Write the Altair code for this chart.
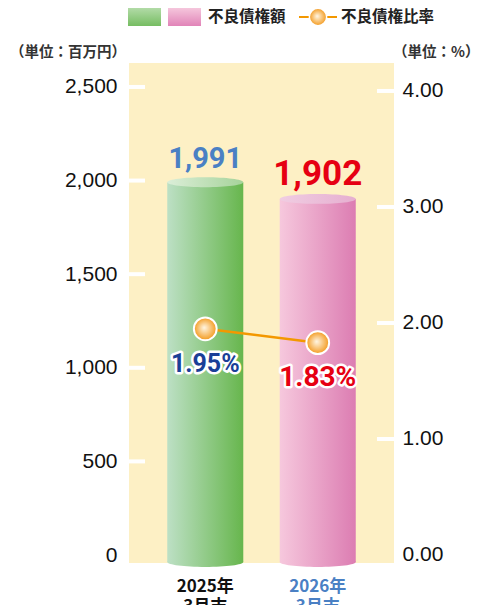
import altair as alt
import pandas as pd

# ---- data ----
years = ["2025年3月末", "2026年3月末"]
year_text = ["2025年\n3月末", "2026年\n3月末"]
amounts = [1991, 1902]
amount_labels = ["1,991", "1,902"]
ratios = [1.95, 1.83]
ratio_labels = ["1.95%", "1.83%"]
left_ticks = [0, 500, 1000, 1500, 2000, 2500]
right_ticks = [0.0, 1.0, 2.0, 3.0, 4.0]
legend_labels = ["不良債権額", "不良債権比率"]
unit_labels = ["（単位：百万円）", "（単位：%）"]

W, H = 265, 500
NUM_FONT = "Roboto, Liberation Sans, sans-serif"
AX_FONT = "Liberation Sans, Arial, sans-serif"
JP_FONT = "Noto Sans CJK JP, sans-serif"

df = pd.DataFrame({
    "year": years, "ytext": year_text, "amount": amounts,
    "amount_label": amount_labels, "ratio": ratios, "ratio_label": ratio_labels,
})
one = pd.DataFrame({"k": [0]})
lt = pd.DataFrame({"v": [v for v in left_ticks if v > 0]})
rt = pd.DataFrame({"v": [v for v in right_ticks if v > 0]})

x = alt.X("year:N", scale=alt.Scale(domain=years, paddingInner=0.324, paddingOuter=0.34), axis=None)
yL = alt.Scale(domain=[-42.7, 2628], nice=False, zero=False)
yR = alt.Scale(domain=[-0.069, 4.241], nice=False, zero=False)

left_axis = alt.Axis(values=left_ticks, format=",.0f", labelFontSize=21, labelFont=AX_FONT,
                     labelColor="#111111", labelPadding=12, ticks=False, domain=False,
                     grid=False, title=None, orient="left")
right_axis = alt.Axis(values=right_ticks, format=".2f", labelFontSize=21, labelFont=AX_FONT,
                      labelColor="#111111", labelPadding=8, ticks=False, domain=False,
                      grid=False, title=None, orient="right")


def YL(field):
    return alt.Y(field, scale=yL, axis=left_axis, title=None)


def YR(field):
    return alt.Y(field, scale=yR, axis=right_axis, title=None)


def lg(c0, c1, vertical=False):
    return alt.LinearGradient(
        gradient="linear",
        stops=[alt.GradientStop(color=c0, offset=0), alt.GradientStop(color=c1, offset=1)],
        x1=0, y1=0, x2=0 if vertical else 1, y2=1 if vertical else 0,
    )


def ellipse(ratio):
    k = 0.5523
    r = ratio
    return (f"M -1 0 C -1 {-k*r:.4f} {-k:.4f} {-r} 0 {-r} C {k:.4f} {-r} 1 {-k*r:.4f} 1 0 "
            f"C 1 {k*r:.4f} {k:.4f} {r} 0 {r} C {-k:.4f} {r} -1 {k*r:.4f} -1 0 Z")


ELL = ellipse(0.13)
BW = 76
bar_styles = {
    years[0]: dict(body=lg("#bde0c5", "#67b64d"), top=lg("#dbeed8", "#a6d39a"),
                   label_color="#4a80c4", label_size=29, xl_color="#111111"),
    years[1]: dict(body=lg("#f6c8dd", "#dc7db2"), top=lg("#f0cde2", "#e6afd0"),
                   label_color="#e60012", label_size=35, xl_color="#4a80c4"),
}

left_layers = []
for yr in years:
    st = bar_styles[yr]
    base = alt.Chart(df).transform_filter(alt.datum.year == yr)
    left_layers.append(
        base.mark_point(shape=ELL, filled=True, fill=st["body"], size=BW * BW, opacity=1, strokeWidth=0)
        .encode(x=x, y=alt.value(H - 1))
    )
    left_layers.append(
        base.mark_rect(fill=st["body"], opacity=1)
        .encode(x=x, y=YL("amount:Q"), y2=alt.value(H - 1))
    )
    left_layers.append(
        base.mark_point(shape=ELL, filled=True, fill=st["top"], size=BW * BW, opacity=1, strokeWidth=0)
        .encode(x=x, y=YL("amount:Q"))
    )
    left_layers.append(
        base.mark_text(dy=-14, baseline="alphabetic", font=NUM_FONT, fontWeight="bold",
                       fontSize=st["label_size"], color=st["label_color"])
        .encode(x=x, y=YL("amount:Q"), text="amount_label:N")
    )
    left_layers.append(
        base.mark_text(lineBreak="\n", baseline="alphabetic", font=JP_FONT, fontWeight="bold",
                       fontSize=17, lineHeight=20, color=st["xl_color"])
        .encode(x=x, y=alt.value(529), text="ytext:N")
    )

# inner white ticks
left_layers.append(
    alt.Chart(lt).mark_rule(color="white", strokeWidth=4)
    .encode(y=YL("v:Q"), x=alt.value(0), x2=alt.value(16))
)

# legend & unit titles
leg = alt.Chart(one)
left_layers += [
    leg.mark_rect(fill=lg("#b2dba7", "#76bd62", vertical=True))
    .encode(x=alt.value(-1), x2=alt.value(32), y=alt.value(-55), y2=alt.value(-37)),
    leg.mark_rect(fill=lg("#f5c6dc", "#e184b8", vertical=True))
    .encode(x=alt.value(39), x2=alt.value(72), y=alt.value(-55), y2=alt.value(-37)),
    leg.mark_text(align="left", baseline="middle", font=JP_FONT, fontWeight="bold",
                  fontSize=15.5, color="#222222", text=legend_labels[0])
    .encode(x=alt.value(79), y=alt.value(-46)),
    leg.mark_rule(color="#f39800", strokeWidth=2)
    .encode(x=alt.value(170), x2=alt.value(208), y=alt.value(-46)),
    leg.mark_circle(size=300, opacity=1, stroke="white", strokeWidth=1.5,
                    fill=alt.RadialGradient(gradient="radial",
                                            stops=[alt.GradientStop(color="#fff6e4", offset=0),
                                                   alt.GradientStop(color="#f39a1e", offset=1)],
                                            x1=0.45, y1=0.45, r1=0, x2=0.5, y2=0.5, r2=0.5))
    .encode(x=alt.value(189), y=alt.value(-46)),
    leg.mark_text(align="left", baseline="middle", font=JP_FONT, fontWeight="bold",
                  fontSize=15.5, color="#222222", text=legend_labels[1])
    .encode(x=alt.value(212), y=alt.value(-46)),
    leg.mark_text(align="left", baseline="middle", font=JP_FONT, fontWeight="bold",
                  fontSize=14.5, color="#333333", text=unit_labels[0])
    .encode(x=alt.value(-119), y=alt.value(-10)),
    leg.mark_text(align="left", baseline="middle", font=JP_FONT, fontWeight="bold",
                  fontSize=14.5, color="#333333", text=unit_labels[1])
    .encode(x=alt.value(264), y=alt.value(-10)),
]

left = alt.layer(*left_layers)

# ---- right group: ratio ----
pt_fill = alt.RadialGradient(gradient="radial",
                             stops=[alt.GradientStop(color="#fff6e4", offset=0),
                                    alt.GradientStop(color="#f39a1e", offset=1)],
                             x1=0.45, y1=0.45, r1=0, x2=0.5, y2=0.5, r2=0.5)
right_layers = [
    alt.Chart(df).mark_line(color="#f39800", strokeWidth=2.5)
    .encode(x=x, y=YR("ratio:Q")),
    alt.Chart(df).mark_circle(size=520, opacity=1, fill=pt_fill, stroke="white", strokeWidth=2)
    .encode(x=x, y=YR("ratio:Q")),
]
pct_colors = {years[0]: ("#1a3f97", 25), years[1]: ("#e60012", 28)}
for yr in years:
    c, fs = pct_colors[yr]
    base = alt.Chart(df).transform_filter(alt.datum.year == yr)
    right_layers.append(
        base.mark_text(dy=43, baseline="alphabetic", font=NUM_FONT, fontWeight="bold", fontSize=fs,
                       color="white", stroke="white", strokeWidth=5, strokeJoin="round")
        .encode(x=x, y=YR("ratio:Q"), text="ratio_label:N")
    )
    right_layers.append(
        base.mark_text(dy=43, baseline="alphabetic", font=NUM_FONT, fontWeight="bold", fontSize=fs,
                       color=c)
        .encode(x=x, y=YR("ratio:Q"), text="ratio_label:N")
    )
right_layers.append(
    alt.Chart(rt).mark_rule(color="white", strokeWidth=4)
    .encode(y=YR("v:Q"), x=alt.value(W - 17), x2=alt.value(W))
)
right = alt.layer(*right_layers)

chart = (
    alt.layer(left, right)
    .resolve_scale(y="independent")
    .properties(width=W, height=H, autosize=alt.AutoSizeParams(type="none"),
                padding={"left": 121, "top": 55, "right": 85, "bottom": 42},
                background="white")
    .configure_view(fill="#fdf0c5", stroke=None)
)

chart.save("out.html", embed_options={"renderer": "svg", "actions": False})
